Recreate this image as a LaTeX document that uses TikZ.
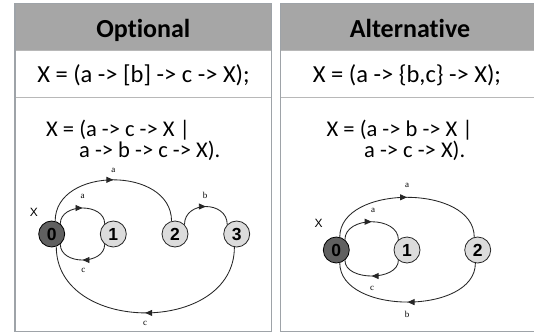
\documentclass[tikz,border=0pt]{standalone}
\usepackage{fontspec}
\setmainfont[Ligatures=NoCommon]{Carlito}
\newfontfamily\arialf{Liberation Sans}
\newfontfamily\timesf{Liberation Serif}
\usetikzlibrary{arrows.meta,decorations.markings}
\definecolor{hdrgray}{HTML}{A6A6A6}
\definecolor{bordergray}{HTML}{9EA3A8}
\definecolor{rowgray}{HTML}{B8B8B8}
\definecolor{darknode}{HTML}{606060}
\definecolor{lightnode}{HTML}{DCDCDC}
\tikzset{
  hdr/.style={anchor=base, font=\bfseries\fontsize{26}{26}\selectfont, inner sep=0},
  rowtxt/.style={anchor=base, font=\fontsize{24.5}{24.5}\selectfont, inner sep=0},
  rowtxtw/.style={anchor=base west, font=\fontsize{22.5}{22.5}\selectfont, inner sep=0},
  state/.style={circle, draw=black!85, line width=0.8pt, minimum size=26pt, inner sep=0,
    font=\arialf\bfseries\fontsize{17.5}{17.5}\selectfont},
  startstate/.style={state, fill=darknode, draw=black},
  otherstate/.style={state, fill=lightnode},
  conn/.style={draw=black!85, line width=0.85pt, postaction={decorate},
    decoration={markings, mark=at position 0.5 with {\arrow{Triangle[length=7pt,width=6pt]}}}},
  lbl/.style={font=\timesf\fontsize{9}{9}\selectfont, inner sep=0},
  xlbl/.style={font=\arialf\fontsize{12}{12}\selectfont, inner sep=0},
  panel/.style={draw=bordergray, line width=1.4pt},
  rowline/.style={draw=rowgray, line width=0.8pt}
}
\begin{document}
\begin{tikzpicture}[x=1pt,y=-1pt]
\useasboundingbox (0,0) rectangle (534,335);
\fill[white] (0,0) rectangle (534,335);
\begin{scope}
\clip (0,0) rectangle (534,335);
% left panel
\fill[hdrgray] (15,3.5) rectangle (271.7,50);
\draw[rowline] (15,50) -- (271.7,50);
\draw[rowline] (15,97) -- (271.7,97);
\draw[panel] (15,3.5) rectangle (271.7,331.7);
% right panel
\fill[hdrgray] (280.7,3.5) rectangle (545,50);
\draw[rowline] (280.7,50) -- (545,50);
\draw[rowline] (280.7,97) -- (545,97);
\draw[panel] (280.7,3.5) rectangle (545,331.7);
\end{scope}

% texts
\node[hdr] (h1) at (143.3,37.3) {Optional};
\node[hdr] (h2) at (410,37.3) {Alternative};
\node[rowtxt] (r1) at (143.5,82) {X = (a -> [b] -> c -> X);};
\node[rowtxt] (r2) at (407,82) {X = (a -> \{b,c\} -> X);};
\node[rowtxtw] (s1a) at (46,136.5) {X = (a -> c -> X |};
\node[rowtxtw] (s1b) at (79,157.5) {a -> b -> c -> X).};
\node[rowtxtw] (s2a) at (326.5,136.5) {X = (a -> b -> X |};
\node[rowtxtw] (s2b) at (364,157.5) {a -> c -> X).};

% left graph
\node[startstate] (a0) at (51.7,234) {0};
\node[otherstate] (a1) at (113.3,234) {1};
\node[otherstate] (a2) at (175,234) {2};
\node[otherstate] (a3) at (236.7,234) {3};
\node[xlbl] (ax) at (34,212.7) {X};
\draw[conn] (a0.50) .. controls +(0,-21) and +(0,-21) .. (a1.130);
\draw[conn] (a1.-130) .. controls +(0,21) and +(0,21) .. (a0.-50);
\draw[conn] (a0.75) .. controls +(0,-55) and +(0,-55) .. (a2.105);
\draw[conn] (a2.45) .. controls +(0,-24) and +(0,-24) .. (a3.135);
\draw[conn] (a3.-100) .. controls +(0,88) and +(0,88) .. (a0.-70);
\node[lbl] (la1) at (82.7,196.7) {a};
\node[lbl] (la2) at (83.3,270) {c};
\node[lbl] (la3) at (113.3,170) {a};
\node[lbl] (la4) at (205,195) {b};
\node[lbl] (la5) at (145,323.3) {c};

% right graph
\node[startstate] (b0) at (336.3,250) {0};
\node[otherstate] (b1) at (407,250) {1};
\node[otherstate] (b2) at (477.7,250) {2};
\node[xlbl] (bx) at (318.7,223.3) {X};
\draw[conn] (b0.50) .. controls +(0,-24) and +(0,-24) .. (b1.130);
\draw[conn] (b1.-130) .. controls +(0,21) and +(0,21) .. (b0.-50);
\draw[conn] (b0.75) .. controls +(0,-53) and +(0,-53) .. (b2.105);
\draw[conn] (b2.-100) .. controls +(0,52) and +(0,52) .. (b0.-75);
\node[lbl] (lb1) at (373,210.7) {a};
\node[lbl] (lb2) at (372,288.3) {c};
\node[lbl] (lb3) at (407,185) {a};
\node[lbl] (lb4) at (407,314) {b};
\end{tikzpicture}
\end{document}
